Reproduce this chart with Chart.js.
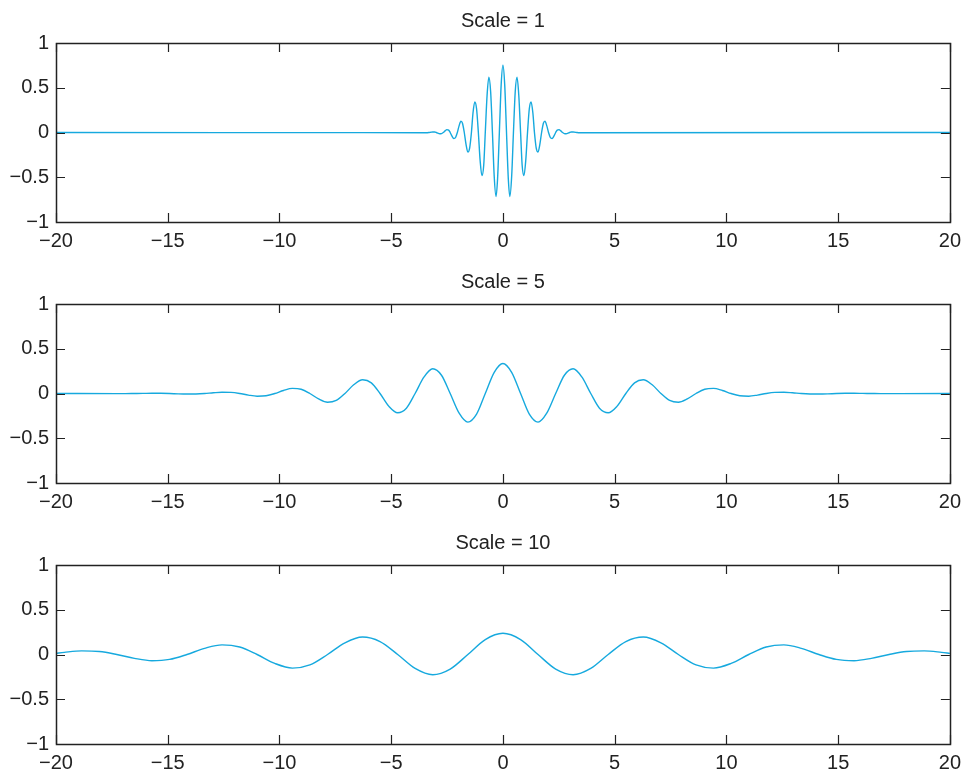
<!DOCTYPE html>
<html>
<head>
<meta charset="utf-8">
<script src="https://cdn.jsdelivr.net/npm/chart.js@4/dist/chart.umd.min.js"></script>
<style>
  html, body { margin: 0; padding: 0; background: #fff; overflow: hidden; }
  .panel { position: absolute; left: 0; width: 968px; height: 261px; }
</style>
</head>
<body>
<div class="panel" style="top:0"><canvas id="c1" width="968" height="261"></canvas></div>
<div class="panel" style="top:261px"><canvas id="c2" width="968" height="261"></canvas></div>
<div class="panel" style="top:522px"><canvas id="c3" width="968" height="261"></canvas></div>
<script>
// values (extrema, zero crossings and half way points)
const scale1X = [-20,
  -3.46, -3.38, -3.30, -3.22, -3.14, -3.06, -2.98, -2.91, -2.83, -2.75, -2.67, -2.59, -2.51, -2.43, -2.36,
  -2.28, -2.20, -2.12, -2.04, -1.96, -1.88, -1.81, -1.73, -1.65, -1.57, -1.49, -1.41, -1.34, -1.26, -1.18,
  -1.10, -1.02, -0.94, -0.86, -0.79, -0.71, -0.63, -0.55, -0.47, -0.39, -0.31, -0.24, -0.16, -0.08,
  0,
  0.08, 0.16, 0.24, 0.31, 0.39, 0.47, 0.55, 0.63, 0.71, 0.79, 0.86, 0.94, 1.02, 1.10, 1.18,
  1.26, 1.34, 1.41, 1.49, 1.57, 1.65, 1.73, 1.81, 1.88, 1.96, 2.04, 2.12, 2.20, 2.28, 2.36,
  2.43, 2.51, 2.59, 2.67, 2.75, 2.83, 2.91, 2.98, 3.06, 3.14, 3.22, 3.30, 3.38, 3.46,
  20];
const scale1Y = [0,
  -0.002, -0.002, 0, 0.003, 0.005, 0.005, 0, -0.008, -0.014, -0.012, 0, 0.018, 0.032, 0.027, 0,
  -0.040, -0.067, -0.056, 0, 0.077, 0.127, 0.104, 0, -0.136, -0.219, -0.174, 0, 0.218, 0.341, 0.265,
  0, -0.315, -0.482, -0.366, 0, 0.414, 0.617, 0.456, 0, -0.492, -0.715, -0.516, 0, 0.529,
  0.751,
  0.529, 0, -0.516, -0.715, -0.492, 0, 0.456, 0.617, 0.414, 0, -0.366, -0.482, -0.315, 0, 0.265,
  0.341, 0.218, 0, -0.174, -0.219, -0.136, 0, 0.104, 0.127, 0.077, 0, -0.056, -0.067, -0.040, 0,
  0.027, 0.032, 0.018, 0, -0.012, -0.014, -0.008, 0, 0.005, 0.005, 0.003, 0, -0.002, -0.002,
  0];

const scale5X = [-20,
  -17.28, -16.89, -16.49, -16.10, -15.71, -15.32, -14.92, -14.53, -14.14, -13.74, -13.35, -12.96, -12.57,
  -12.17, -11.78, -11.39, -11.00, -10.60, -10.21, -9.82, -9.42, -9.03, -8.64, -8.25, -7.85, -7.46, -7.07,
  -6.68, -6.28, -5.89, -5.50, -5.11, -4.71, -4.32, -3.93, -3.53, -3.14, -2.75, -2.36, -1.96, -1.57, -1.18,
  -0.79, -0.39,
  0,
  0.39, 0.79, 1.18, 1.57, 1.96, 2.36, 2.75, 3.14, 3.53, 3.93, 4.32, 4.71, 5.11, 5.50, 5.89, 6.28, 6.68,
  7.07, 7.46, 7.85, 8.25, 8.64, 9.03, 9.42, 9.82, 10.21, 10.60, 11.00, 11.39, 11.78, 12.17, 12.57, 12.96,
  13.35, 13.74, 14.14, 14.53, 14.92, 15.32, 15.71, 16.10, 16.49, 16.89, 17.28,
  20];
const scale5Y = [0,
  -0.001, -0.001, 0, 0.001, 0.002, 0.002, 0, -0.004, -0.006, -0.005, 0, 0.008, 0.014,
  0.012, 0, -0.018, -0.030, -0.025, 0, 0.034, 0.057, 0.047, 0, -0.061, -0.098, -0.078, 0,
  0.097, 0.153, 0.119, 0, -0.141, -0.215, -0.164, 0, 0.185, 0.276, 0.204, 0, -0.220, -0.320, -0.231,
  0, 0.237,
  0.336,
  0.237, 0, -0.231, -0.320, -0.220, 0, 0.204, 0.276, 0.185, 0, -0.164, -0.215, -0.141, 0, 0.119, 0.153, 0.097,
  0, -0.078, -0.098, -0.061, 0, 0.047, 0.057, 0.034, 0, -0.025, -0.030, -0.018, 0, 0.012, 0.014, 0.008,
  0, -0.005, -0.006, -0.004, 0, 0.002, 0.002, 0.001, 0, -0.001, -0.001,
  0];

const scale10X = [-20,
  -19.63, -18.85, -18.06, -17.28, -16.49, -15.71, -14.92, -14.14, -13.35, -12.57, -11.78, -11.00, -10.21,
  -9.42, -8.64, -7.85, -7.07, -6.28, -5.50, -4.71, -3.93, -3.14, -2.36, -1.57, -0.79,
  0,
  0.79, 1.57, 2.36, 3.14, 3.93, 4.71, 5.50, 6.28, 7.07, 7.85, 8.64, 9.42, 10.21,
  11.00, 11.78, 12.57, 13.35, 14.14, 14.92, 15.71, 16.49, 17.28, 18.06, 18.85, 19.63,
  20];
const scale10Y = [0.013,
  0.024, 0.040, 0.033, 0, -0.043, -0.069, -0.055, 0, 0.069, 0.108, 0.084, 0, -0.100,
  -0.152, -0.116, 0, 0.131, 0.195, 0.144, 0, -0.156, -0.226, -0.163, 0, 0.167,
  0.237,
  0.167, 0, -0.163, -0.226, -0.156, 0, 0.144, 0.195, 0.131, 0, -0.116, -0.152, -0.100,
  0, 0.084, 0.108, 0.069, 0, -0.055, -0.069, -0.043, 0, 0.033, 0.040, 0.024,
  0.013];

const titles = ["Scale = 1", "Scale = 5", "Scale = 10"];
const xTicks = [-20, -15, -10, -5, 0, 5, 10, 15, 20];
const yTicks = [-1, -0.5, 0, 0.5, 1];

const ink = "#222";
const lineColor = "#16a9de";
const font = { family: "'Liberation Sans', Arial, Helvetica, sans-serif", size: 20 };

function label(v) {
  return String(v).replace("-", "\u2212");
}

// matlab style box with ticks pointing inward on all sides
const boxTicks = {
  id: "boxTicks",
  afterDraw(chart) {
    const { ctx, chartArea: a, scales } = chart;
    const len = 9;
    ctx.save();
    ctx.strokeStyle = ink;
    ctx.lineWidth = 1.2;
    ctx.beginPath();
    scales.x.ticks.forEach(t => {
      const px = Math.round(scales.x.getPixelForValue(t.value)) + 0.5;
      ctx.moveTo(px, a.bottom); ctx.lineTo(px, a.bottom - len);
      ctx.moveTo(px, a.top); ctx.lineTo(px, a.top + len);
    });
    scales.y.ticks.forEach(t => {
      const py = Math.round(scales.y.getPixelForValue(t.value)) + 0.5;
      ctx.moveTo(a.left, py); ctx.lineTo(a.left + len, py);
      ctx.moveTo(a.right, py); ctx.lineTo(a.right - len, py);
    });
    ctx.stroke();
    ctx.lineWidth = 1.5;
    ctx.strokeRect(Math.round(a.left) + 0.5, Math.round(a.top) + 0.5,
      Math.round(a.right - a.left), Math.round(a.bottom - a.top));
    ctx.restore();
  }
};

function makePanel(id, title, xs, ys) {
  new Chart(document.getElementById(id), {
    type: "line",
    data: {
      datasets: [{
        data: xs.map((x, i) => ({ x: x, y: ys[i] })),
        borderColor: lineColor,
        borderWidth: 1.4,
        pointRadius: 0,
        cubicInterpolationMode: "monotone",
        fill: false
      }]
    },
    options: {
      responsive: false,
      animation: false,
      layout: { padding: { left: 0, right: 13, top: 0, bottom: 0 } },
      plugins: {
        legend: { display: false },
        tooltip: { enabled: false },
        title: {
          display: true,
          text: title,
          color: ink,
          fullSize: false,
          font: { family: font.family, size: 20, weight: "normal" },
          padding: { top: 9, bottom: 10 }
        }
      },
      scales: {
        x: {
          type: "linear",
          min: -20,
          max: 20,
          afterFit: s => { s.height = 39; },
          afterBuildTicks: s => { s.ticks = xTicks.map(v => ({ value: v })); },
          grid: { display: false, drawTicks: false },
          border: { display: false },
          ticks: { color: ink, font: font, padding: 7, maxRotation: 0, autoSkip: false, callback: label }
        },
        y: {
          type: "linear",
          min: -1,
          max: 1,
          afterFit: s => { s.width = 56; },
          afterBuildTicks: s => { s.ticks = yTicks.map(v => ({ value: v })); },
          grid: { display: false, drawTicks: false },
          border: { display: false },
          ticks: { color: ink, font: font, padding: 7, callback: label }
        }
      }
    },
    plugins: [boxTicks]
  });
}

makePanel("c1", titles[0], scale1X, scale1Y);
makePanel("c2", titles[1], scale5X, scale5Y);
makePanel("c3", titles[2], scale10X, scale10Y);
</script>
</body>
</html>
